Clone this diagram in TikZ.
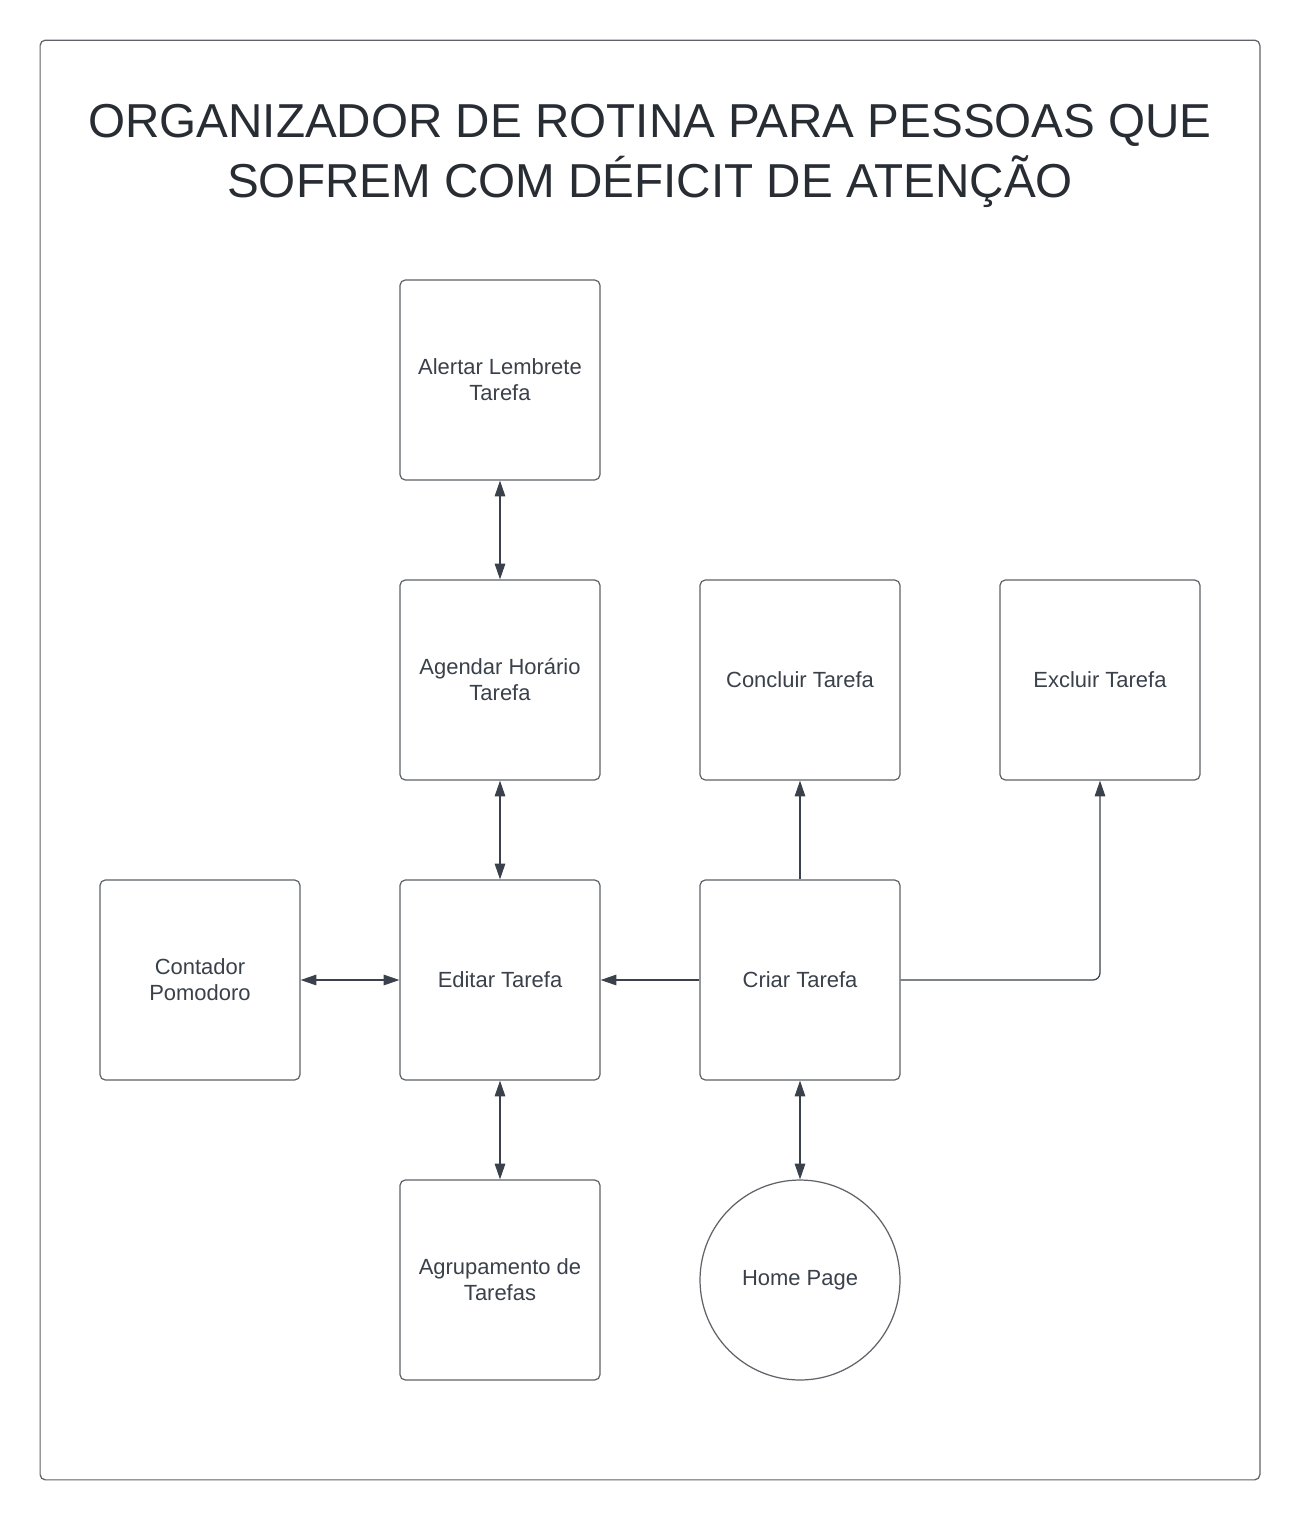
\documentclass[tikz,border=0pt]{standalone}
\usepackage{fontspec}
\setmainfont{Liberation Sans}
\usetikzlibrary{arrows.meta}
\definecolor{boxline}{HTML}{5F6368}
\definecolor{txt}{HTML}{3A414A}
\definecolor{ttl}{HTML}{282C33}
\definecolor{arr}{HTML}{3A414A}
\begin{document}
\begin{tikzpicture}[x=0.02cm,y=-0.02cm,
  box/.style={draw=boxline,line width=0.7pt,rounded corners=3pt,minimum width=4cm,minimum height=4cm,align=center,text=txt,font=\fontsize{12.5}{14.8}\selectfont,inner sep=0pt},
  circ/.style={draw=boxline,line width=0.7pt,circle,minimum size=4cm,align=center,text=txt,font=\fontsize{12.5}{14.8}\selectfont,inner sep=0pt},
  conn/.style={draw=arr,line width=0.7pt,{Triangle[length=9pt,width=6pt]}-{Triangle[length=9pt,width=6pt]}},
  onew/.style={draw=arr,line width=0.7pt,-{Triangle[length=9pt,width=6pt]}}]
\fill[white] (0,0) rectangle (1300,1520);
\useasboundingbox (0,0) rectangle (1300,1520);
\node[draw=boxline,line width=0.7pt,rounded corners=3pt,minimum width=24.4cm,minimum height=28.8cm,inner sep=0pt] (frame) at (650,760) {};
\node[text=ttl,font=\fontsize{27.1}{34}\selectfont,align=center] (title) at (650,156) {ORGANIZADOR DE ROTINA PARA PESSOAS QUE\\SOFREM COM DÉFICIT DE ATENÇÃO};
\node[box] (alert) at (500,380) {Alertar Lembrete\\Tarefa};
\node[box] (agendar) at (500,680) {Agendar Horário\\Tarefa};
\node[box] (concluir) at (800,680) {Concluir Tarefa};
\node[box] (excluir) at (1100,680) {Excluir Tarefa};
\node[box] (contador) at (200,980) {Contador\\Pomodoro};
\node[box] (editar) at (500,980) {Editar Tarefa};
\node[box] (criar) at (800,980) {Criar Tarefa};
\node[box] (agrup) at (500,1280) {Agrupamento de\\Tarefas};
\node[circ] (home) at (800,1280) {Home Page};
\draw[conn] (alert.south) -- (agendar.north);
\draw[conn] (agendar.south) -- (editar.north);
\draw[conn] (contador.east) -- (editar.west);
\draw[conn] (editar.south) -- (agrup.north);
\draw[conn] (criar.south) -- (home.north);
\draw[onew] (criar.west) -- (editar.east);
\draw[onew] (criar.north) -- (concluir.south);
\draw[onew,rounded corners=4pt] (criar.east) -| (excluir.south);
\end{tikzpicture}
\end{document}
